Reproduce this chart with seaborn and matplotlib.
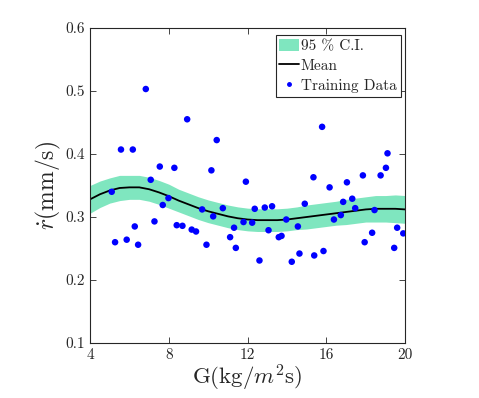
import matplotlib
matplotlib.use("Agg")
import matplotlib.pyplot as plt
import seaborn as sns
import pandas as pd
from matplotlib.patches import Patch
from matplotlib.lines import Line2D

# training data
g_train = [5.10, 5.27, 5.57, 5.86, 6.17, 6.27, 6.44, 6.83, 7.08, 7.27, 7.54, 7.69,
           7.98, 8.28, 8.40, 8.69, 8.93, 9.16, 9.38, 9.69, 9.91, 10.16, 10.25, 10.43,
           10.74, 11.11, 11.31, 11.40, 11.79, 11.91, 12.23, 12.36, 12.60, 12.87, 13.06,
           13.24, 13.58, 13.72, 13.96, 14.24, 14.55, 14.63, 14.90, 15.34, 15.38, 15.78,
           15.85, 16.16, 16.38, 16.73, 16.85, 17.04, 17.31, 17.46, 17.85, 17.94, 18.32,
           18.44, 18.75, 19.02, 19.10, 19.44, 19.59, 19.90]
r_train = [0.340, 0.260, 0.407, 0.264, 0.407, 0.285, 0.256, 0.503, 0.359, 0.293, 0.380, 0.319,
           0.330, 0.378, 0.287, 0.286, 0.455, 0.280, 0.277, 0.312, 0.256, 0.374, 0.301, 0.422,
           0.314, 0.268, 0.283, 0.251, 0.292, 0.356, 0.291, 0.313, 0.231, 0.315, 0.279,
           0.317, 0.268, 0.270, 0.296, 0.229, 0.285, 0.242, 0.321, 0.363, 0.239, 0.443,
           0.246, 0.347, 0.296, 0.303, 0.324, 0.355, 0.329, 0.314, 0.366, 0.260, 0.275,
           0.311, 0.366, 0.378, 0.401, 0.251, 0.283, 0.274]

# GP mean and 95% band
g_grid = [4.0, 4.5, 5.0, 5.5, 6.0, 6.5, 7.0, 7.5, 8.0, 8.5, 9.0, 9.5, 10.0, 10.5, 11.0,
          11.5, 12.0, 12.5, 13.0, 13.5, 14.0, 14.5, 15.0, 15.5, 16.0, 16.5, 17.0, 17.5,
          18.0, 18.5, 19.0, 19.5, 20.0]
r_mean = [0.328, 0.336, 0.342, 0.346, 0.347, 0.347, 0.344, 0.339, 0.333, 0.326, 0.320,
          0.314, 0.309, 0.305, 0.301, 0.298, 0.296, 0.295, 0.295, 0.295, 0.296, 0.298,
          0.300, 0.302, 0.304, 0.306, 0.308, 0.310, 0.312, 0.313, 0.313, 0.313, 0.312]
half_width = [0.022, 0.021, 0.020, 0.020, 0.019, 0.019, 0.019, 0.019, 0.019, 0.018, 0.018,
              0.018, 0.018, 0.018, 0.018, 0.018, 0.018, 0.018, 0.018, 0.018, 0.018, 0.018,
              0.019, 0.019, 0.019, 0.019, 0.020, 0.020, 0.020, 0.021, 0.021, 0.022, 0.022]

x_ticks = [4, 8, 12, 16, 20]
y_ticks = [0.1, 0.2, 0.3, 0.4, 0.5, 0.6]

sns.set_style("ticks")
plt.rcParams["font.family"] = ["serif"]
plt.rcParams["font.serif"] = ["cmr10", "DejaVu Serif"]
plt.rcParams["mathtext.fontset"] = "cm"
plt.rcParams["axes.formatter.use_mathtext"] = True

train = pd.DataFrame({"G": g_train, "r": r_train})
curve = pd.DataFrame({"G": g_grid, "mean": r_mean, "hw": half_width})
curve["lo"] = curve["mean"] - curve["hw"]
curve["hi"] = curve["mean"] + curve["hw"]

fig = plt.figure(figsize=(4.79, 3.98), dpi=100)
ax = fig.add_axes([0.188, 0.138, 0.658, 0.792])

band_color = "#7fe6bf"
ax.fill_between(curve["G"], curve["lo"], curve["hi"], color=band_color, lw=0)
sns.lineplot(data=curve, x="G", y="mean", color="black", lw=1.3, ax=ax)
sns.scatterplot(data=train, x="G", y="r", color="#0000ff", s=22, edgecolor="none", ax=ax, zorder=3)

ax.set_xlim(4, 20)
ax.set_ylim(0.1, 0.6)
ax.set_xticks(x_ticks)
ax.set_xticklabels([str(t) for t in x_ticks])
ax.set_yticks(y_ticks)
ax.set_yticklabels([f"{t:.1f}" for t in y_ticks])
ax.tick_params(direction="in", top=True, right=True, labelsize=11, colors="#262626",
               length=4, width=0.6)
for s in ax.spines.values():
    s.set_visible(True)
    s.set_color("#262626")
    s.set_linewidth(0.8)

ax.set_xlabel(r"G(kg/$m^2$s)", fontsize=16.5, color="#262626", labelpad=1)
ax.set_ylabel(r"$\dot{r}$(mm/s)", fontsize=17, color="#262626", labelpad=2)

handles = [Patch(facecolor=band_color, edgecolor="none"),
           Line2D([], [], color="black", lw=1.3),
           Line2D([], [], color="#0000ff", marker="o", ls="none", markersize=2.5)]
leg = ax.legend(handles, ["95 % C.I.", "Mean", "Training Data"], loc="upper right",
                bbox_to_anchor=(0.985, 0.978), borderaxespad=0, fontsize=11,
                frameon=True, fancybox=False, framealpha=1, edgecolor="#262626",
                handlelength=1.3, handleheight=0.9, handletextpad=0.1,
                labelspacing=0.35, borderpad=0.25)
leg.get_frame().set_linewidth(0.8)

fig.savefig("out.png", dpi=100)
